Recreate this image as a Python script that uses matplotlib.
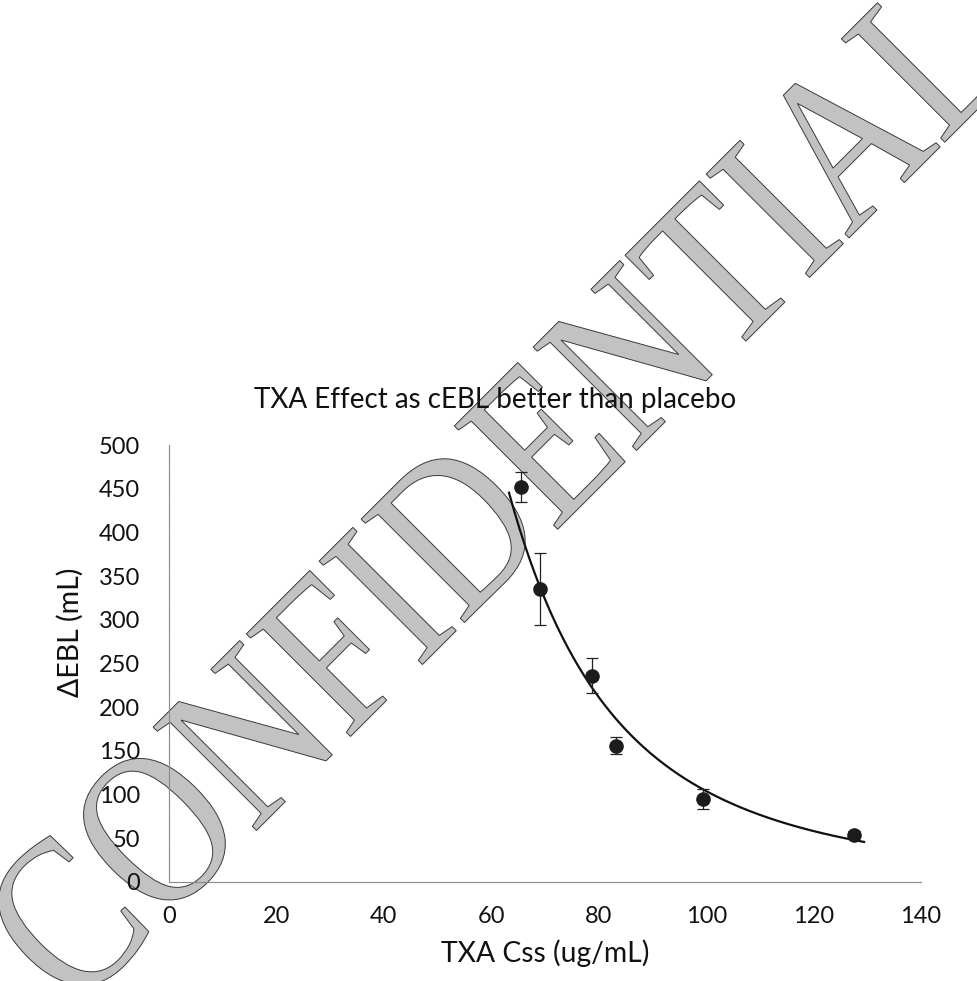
import numpy as np
import matplotlib
matplotlib.use("Agg")
import matplotlib.pyplot as plt
from matplotlib.textpath import TextPath
from matplotlib.font_manager import FontProperties
from matplotlib.patches import PathPatch
from matplotlib.transforms import Affine2D

# ---- data ----
txa_css = [65.5, 69.0, 78.7, 83.2, 99.5, 127.5]          # ug/mL
delta_ebl = [452, 335, 236, 156, 95, 54]                 # mL
delta_ebl_err = [17, 41, 20, 10, 11, 4]                  # mL
fit_x_start, fit_x_end = 63.3, 129.4                     # trendline span
x_ticks = [0, 20, 40, 60, 80, 100, 120, 140]
y_ticks = [0, 50, 100, 150, 200, 250, 300, 350, 400, 450, 500]
title = "TXA Effect as cEBL better than placebo"
x_label = "TXA Css (ug/mL)"
y_label = "\u0394EBL (mL)"
watermark = "CONFIDENTIAL"

W, H = 977, 981
FAM = ["Lato", "DejaVu Sans"]
fig = plt.figure(figsize=(W / 100, H / 100), dpi=100)
fig.patch.set_facecolor("white")

# ---- watermark (behind everything) ----
tp = TextPath((0, 0), watermark, size=100,
              prop=FontProperties(family="Liberation Serif"))
bb = tp.get_extents()
target_len, target_h = 1320, 150
sx = target_len / bb.width
sy = target_h / bb.height
cx, cy = 494, H - 490
tr = (Affine2D()
      .translate(-(bb.x0 + bb.x1) / 2, -(bb.y0 + bb.y1) / 2)
      .scale(sx, sy)
      .rotate_deg(45)
      .translate(cx, cy)
      .scale(1 / 100.0))
wm = PathPatch(tr.transform_path(tp), transform=fig.dpi_scale_trans,
               facecolor="#c2c2c2", edgecolor="#3a3a3a", lw=0.7, zorder=0)
fig.patches.append(wm)

# ---- axes ----
ax = fig.add_axes([169 / W, 1 - 882 / H, 752 / W, (882 - 445) / H])
ax.set_facecolor("none")
ax.set_zorder(2)
ax.set_xlim(0, 140)
ax.set_ylim(0, 500)
ax.set_xticks(x_ticks)
ax.set_yticks(y_ticks)
for s in ("top", "right"):
    ax.spines[s].set_visible(False)
for s in ("left", "bottom"):
    ax.spines[s].set_color("#8a8a8a")
    ax.spines[s].set_linewidth(0.8)
    ax.spines[s].set_linestyle((0, (2, 0.6)))
ax.tick_params(axis="both", length=0)
ax.tick_params(axis="y", pad=21)
ax.tick_params(axis="x", pad=17)
for lab in ax.get_xticklabels() + ax.get_yticklabels():
    lab.set_fontfamily(FAM)
    lab.set_fontsize(17)
    lab.set_color("#111111")

# power-law trendline fitted to the points (log-log least squares)
b, ln_a = np.polyfit(np.log(txa_css), np.log(delta_ebl), 1)
xf = np.linspace(fit_x_start, fit_x_end, 200)
ax.plot(xf, np.exp(ln_a) * xf ** b, color="#111111", lw=1.6, zorder=3)

ax.errorbar(txa_css, delta_ebl, yerr=delta_ebl_err, fmt="o",
            color="#1c1c1c", ms=9.5, elinewidth=0.9, ecolor="#222222",
            capsize=4, capthick=0.9, zorder=4)

# ---- texts ----
fig.text(495 / W, 1 - 400 / H, title, ha="center", va="center",
         fontsize=20, family=FAM, color="#111111", zorder=5)
fig.text(545 / W, 1 - 953 / H, x_label, ha="center", va="center",
         fontsize=20.3, family=FAM, color="#111111", zorder=5)
fig.text(70 / W, 1 - 632 / H, y_label, ha="center", va="center",
         rotation=90, fontsize=20.5, family=FAM, color="#111111", zorder=5)

fig.savefig("out.png", dpi=100, facecolor="white")
